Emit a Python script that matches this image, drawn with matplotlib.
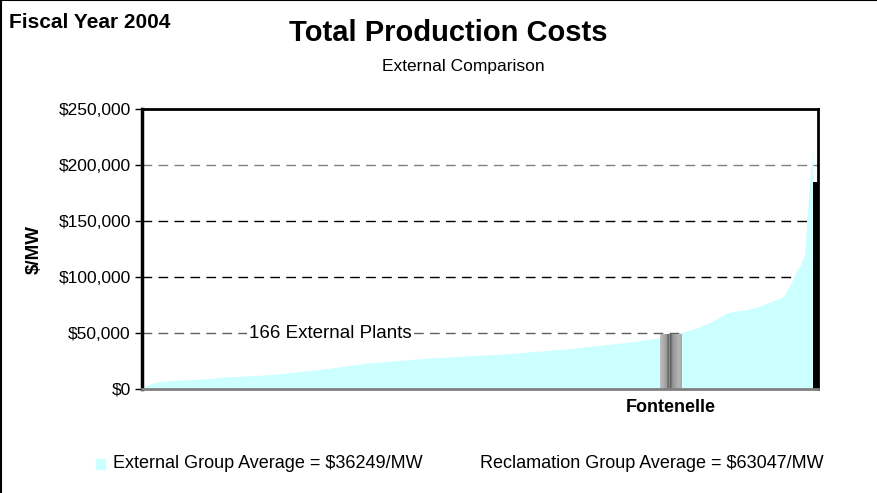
import numpy as np
import matplotlib
matplotlib.use("Agg")
import matplotlib.pyplot as plt
from matplotlib.lines import Line2D

plt.rcParams['font.family'] = ['Liberation Sans', 'DejaVu Sans']

# ---------------- data ----------------
external_costs = [
    1000, 3000, 4500, 5500, 6500, 7000, 7300, 7500, 7700, 7900,
    8000, 8200, 8400, 8600, 8800, 9000, 9300, 9600, 9900, 10200,
    10500, 10700, 10900, 11100, 11300, 11500, 11700, 11900, 12100, 12300,
    12500, 12800, 13100, 13400, 13700, 14000, 14400, 14800, 15200, 15600,
    16000, 16400, 16800, 17200, 17600, 18000, 18500, 19000, 19500, 20000,
    20500, 21000, 21500, 22000, 22500, 23000, 23300, 23600, 23900, 24200,
    24500, 24800, 25100, 25400, 25700, 26000, 26300, 26600, 26900, 27200,
    27500, 27700, 27900, 28100, 28300, 28500, 28700, 28900, 29100, 29300,
    29500, 29700, 29900, 30100, 30300, 30500, 30700, 30900, 31100, 31300,
    31500, 31800, 32100, 32400, 32700, 33000, 33300, 33600, 33900, 34200,
    34500, 34800, 35100, 35400, 35700, 36000, 36400, 36800, 37200, 37600,
    38000, 38400, 38800, 39200, 39600, 40000, 40400, 40800, 41200, 41600,
    42000, 42500, 43000, 43500, 44000, 44500, 45000, 45500, 46000, 46500,
    47000, 48300, 49600, 51000, 52000, 53000, 54000, 55000, 57000, 58500,
    60000, 62000, 64000, 66000, 68000, 68800, 69500, 70000, 70500, 71200,
    72000, 73000, 74000, 75500, 77000, 78500, 80000, 81000, 84000, 90000,
    97000, 105000, 111000, 120000, 175000, 215000,
]
fontenelle_name = "Fontenelle"
fontenelle_cost = 49000
fontenelle_pos = 130.1
end_bar_cost = 185000
y_ticks = [0, 50000, 100000, 150000, 200000, 250000]
y_tick_labels = ["$0", "$50,000", "$100,000", "$150,000", "$200,000", "$250,000"]
external_avg = 36249
reclamation_avg = 63047

# ---------------- figure ----------------
fig = plt.figure(figsize=(8.77, 4.93), dpi=100)
ax = fig.add_axes([142/877, 1-389/493, 676/877, 280/493])

n = len(external_costs)
x = np.arange(n)
ax.fill_between(x, 0, external_costs, color='#CCFFFF', linewidth=0, zorder=2)

# Fontenelle gradient bar
w = 5.4
grad = np.array([[0.74, 0.72, 0.70, 0.68, 0.66, 0.64, 0.60, 0.48, 0.42, 0.54,
                  0.38, 0.46, 0.56, 0.60, 0.62, 0.64, 0.66, 0.68, 0.70, 0.70,
                  0.68, 0.66]])
ax.imshow(grad, cmap='gray', vmin=0, vmax=1, aspect='auto',
          extent=[fontenelle_pos - w/2, fontenelle_pos + w/2, 0, fontenelle_cost],
          interpolation='bilinear', zorder=3)

# black end bar
ax.bar(n - 1 + 0.65, end_bar_cost, width=1.3, color='black', zorder=3)

# gridlines
grid_colors = {50000: '#606060', 100000: '#000000', 150000: '#000000', 200000: '#808080'}
for yv, c in grid_colors.items():
    ax.axhline(yv, color=c, linewidth=1.0, dashes=(7, 4.5), zorder=1)

ax.set_xlim(0, 166.3)
ax.set_ylim(0, 250000)
ax.set_yticks(y_ticks)
ax.set_yticklabels(y_tick_labels, fontsize=12.5)
ax.set_xticks([])
ax.tick_params(axis='y', direction='out', length=5, width=1, color='black', pad=3)

for s in ['left', 'top', 'right']:
    ax.spines[s].set_color('black')
ax.spines['left'].set_linewidth(2.5)
ax.spines['top'].set_linewidth(2)
ax.spines['right'].set_linewidth(2)
ax.spines['bottom'].set_color('#808080')
ax.spines['bottom'].set_linewidth(2)
for s in ax.spines.values():
    s.set_zorder(5)

ax.set_ylabel("$/MW", fontsize=13.5, fontweight='bold')
ax.yaxis.set_label_coords(-0.1465, 0.5)

ax.text(46.3, 50000, "166 External Plants", fontsize=13.5, ha='center', va='center',
        bbox=dict(facecolor='white', edgecolor='none', pad=1.5), zorder=4)

ax.text(fontenelle_pos, -9000, fontenelle_name, fontsize=13, fontweight='bold',
        ha='center', va='top')

# titles
fig.text(9/877, 1-22/493, "Fiscal Year 2004", fontsize=15, fontweight='bold',
         ha='left', va='center')
fig.text(448/877, 1-33/493, "Total Production Costs", fontsize=21, fontweight='bold',
         ha='center', va='center')
fig.text(463/877, 1-67/493, "External Comparison", fontsize=12.5,
         ha='center', va='center')

# legend-like annotation
fig.patches.append(plt.Rectangle((96/877, 1-469/493), 9/877, 10/493,
                                 transform=fig.transFigure, color='#CCFFFF'))
fig.text(113/877, 1-464/493, f"External Group Average = ${external_avg}/MW",
         fontsize=13, ha='left', va='center')
fig.text(824/877, 1-464/493, f"Reclamation Group Average = ${reclamation_avg}/MW",
         fontsize=13, ha='right', va='center')

# outer frame (top and left)
fig.add_artist(Line2D([0.001, 0.001], [0, 1], transform=fig.transFigure, color='black', linewidth=1.5))
fig.add_artist(Line2D([0, 1], [0.999, 0.999], transform=fig.transFigure, color='black', linewidth=1.5))

fig.savefig("out.png", dpi=100)
